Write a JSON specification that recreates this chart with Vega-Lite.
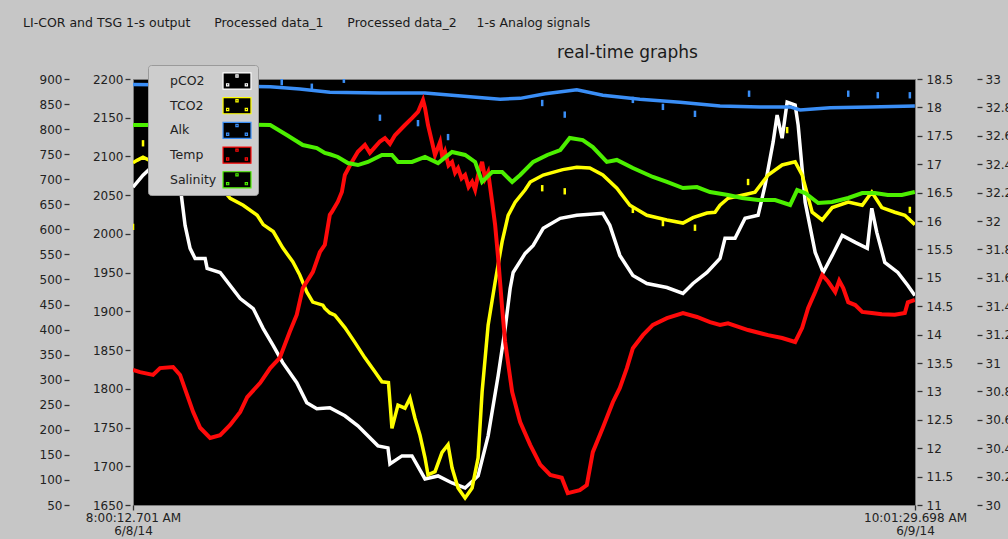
{
  "$schema": "https://vega.github.io/schema/vega-lite/v6.json",
  "width": 782,
  "height": 426,
  "autosize": {"type": "none"},
  "padding": {"left": 133, "top": 79, "right": 93, "bottom": 34},
  "background": "#c6c6c6",
  "title": {
    "text": "LI-COR and TSG 1-s output\u00a0\u00a0\u00a0\u00a0\u00a0\u00a0Processed data_1\u00a0\u00a0\u00a0\u00a0\u00a0\u00a0Processed data_2\u00a0\u00a0\u00a0\u00a0\u00a01-s Analog signals",
    "anchor": "start", "frame": "group", "dx": -110, "dy": -14, "offset": 0,
    "font": "DejaVu Sans", "fontSize": 12.5, "fontWeight": "normal", "color": "#1a1a1a"
  },
  "config": {
    "view": {"fill": "#000000", "stroke": "#7a7a7a", "strokeWidth": 1},
    "axis": {"labelFont": "DejaVu Sans", "labelFontSize": 12, "labelColor": "#222222", "tickColor": "#333333", "tickWidth": 1.3, "tickSize": 5, "domain": false, "grid": false, "labelOverlap": false}
  },
  "datasets": {
    "pco2": [
      {"s":"pCO2","t":0,"v":684},{"s":"pCO2","t":20,"v":708},{"s":"pCO2","t":54,"v":740},{"s":"pCO2","t":94,"v":688},{"s":"pCO2","t":104,"v":608},{"s":"pCO2","t":114,"v":562},{"s":"pCO2","t":124,"v":542},{"s":"pCO2","t":144,"v":542},{"s":"pCO2","t":148,"v":522},{"s":"pCO2","t":174,"v":514},{"s":"pCO2","t":214,"v":462},{"s":"pCO2","t":240,"v":442},{"s":"pCO2","t":260,"v":402},{"s":"pCO2","t":280,"v":368},{"s":"pCO2","t":299,"v":334},{"s":"pCO2","t":327,"v":294},{"s":"pCO2","t":347,"v":254},{"s":"pCO2","t":367,"v":242},{"s":"pCO2","t":393,"v":244},{"s":"pCO2","t":423,"v":228},{"s":"pCO2","t":449,"v":208},{"s":"pCO2","t":489,"v":168},{"s":"pCO2","t":509,"v":164},{"s":"pCO2","t":513,"v":132},{"s":"pCO2","t":537,"v":148},{"s":"pCO2","t":557,"v":148},{"s":"pCO2","t":583,"v":102},{"s":"pCO2","t":609,"v":108},{"s":"pCO2","t":637,"v":94},{"s":"pCO2","t":663,"v":84},{"s":"pCO2","t":689,"v":108},{"s":"pCO2","t":709,"v":188},{"s":"pCO2","t":729,"v":308},{"s":"pCO2","t":743,"v":402},{"s":"pCO2","t":753,"v":482},{"s":"pCO2","t":759,"v":514},{"s":"pCO2","t":783,"v":552},{"s":"pCO2","t":799,"v":568},{"s":"pCO2","t":819,"v":602},{"s":"pCO2","t":853,"v":622},{"s":"pCO2","t":886,"v":628},{"s":"pCO2","t":938,"v":632},{"s":"pCO2","t":952,"v":608},{"s":"pCO2","t":972,"v":548},{"s":"pCO2","t":998,"v":508},{"s":"pCO2","t":1026,"v":492},{"s":"pCO2","t":1066,"v":484},{"s":"pCO2","t":1098,"v":472},{"s":"pCO2","t":1118,"v":492},{"s":"pCO2","t":1146,"v":514},{"s":"pCO2","t":1172,"v":542},{"s":"pCO2","t":1182,"v":582},{"s":"pCO2","t":1202,"v":582},{"s":"pCO2","t":1222,"v":622},{"s":"pCO2","t":1248,"v":628},{"s":"pCO2","t":1262,"v":688},{"s":"pCO2","t":1278,"v":774},{"s":"pCO2","t":1286,"v":828},{"s":"pCO2","t":1296,"v":782},{"s":"pCO2","t":1306,"v":854},{"s":"pCO2","t":1322,"v":848},{"s":"pCO2","t":1328,"v":808},{"s":"pCO2","t":1342,"v":654},{"s":"pCO2","t":1362,"v":554},{"s":"pCO2","t":1378,"v":514},{"s":"pCO2","t":1396,"v":548},{"s":"pCO2","t":1416,"v":588},{"s":"pCO2","t":1442,"v":574},{"s":"pCO2","t":1466,"v":562},{"s":"pCO2","t":1475,"v":642},{"s":"pCO2","t":1485,"v":594},{"s":"pCO2","t":1501,"v":534},{"s":"pCO2","t":1527,"v":514},{"s":"pCO2","t":1547,"v":488},{"s":"pCO2","t":1561,"v":468}
    ],
    "carb": [
      {"s":"TCO2","t":0,"v":2092},{"s":"TCO2","t":8,"v":2095},{"s":"TCO2","t":20,"v":2099},{"s":"TCO2","t":134,"v":2063},{"s":"TCO2","t":174,"v":2061},{"s":"TCO2","t":194,"v":2046},{"s":"TCO2","t":220,"v":2037},{"s":"TCO2","t":248,"v":2024},{"s":"TCO2","t":260,"v":2012},{"s":"TCO2","t":280,"v":2003},{"s":"TCO2","t":299,"v":1982},{"s":"TCO2","t":319,"v":1964},{"s":"TCO2","t":333,"v":1947},{"s":"TCO2","t":347,"v":1925},{"s":"TCO2","t":359,"v":1912},{"s":"TCO2","t":379,"v":1908},{"s":"TCO2","t":383,"v":1904},{"s":"TCO2","t":393,"v":1898},{"s":"TCO2","t":403,"v":1895},{"s":"TCO2","t":423,"v":1879},{"s":"TCO2","t":443,"v":1860},{"s":"TCO2","t":463,"v":1840},{"s":"TCO2","t":483,"v":1822},{"s":"TCO2","t":497,"v":1809},{"s":"TCO2","t":510,"v":1808},{"s":"TCO2","t":514,"v":1775},{"s":"TCO2","t":517,"v":1749},{"s":"TCO2","t":529,"v":1779},{"s":"TCO2","t":543,"v":1775},{"s":"TCO2","t":553,"v":1788},{"s":"TCO2","t":563,"v":1762},{"s":"TCO2","t":573,"v":1740},{"s":"TCO2","t":583,"v":1711},{"s":"TCO2","t":589,"v":1689},{"s":"TCO2","t":603,"v":1693},{"s":"TCO2","t":617,"v":1718},{"s":"TCO2","t":629,"v":1728},{"s":"TCO2","t":637,"v":1698},{"s":"TCO2","t":649,"v":1672},{"s":"TCO2","t":663,"v":1659},{"s":"TCO2","t":677,"v":1672},{"s":"TCO2","t":689,"v":1711},{"s":"TCO2","t":697,"v":1796},{"s":"TCO2","t":709,"v":1882},{"s":"TCO2","t":723,"v":1938},{"s":"TCO2","t":737,"v":1990},{"s":"TCO2","t":749,"v":2024},{"s":"TCO2","t":763,"v":2041},{"s":"TCO2","t":783,"v":2057},{"s":"TCO2","t":793,"v":2067},{"s":"TCO2","t":819,"v":2076},{"s":"TCO2","t":858,"v":2083},{"s":"TCO2","t":886,"v":2086},{"s":"TCO2","t":912,"v":2085},{"s":"TCO2","t":938,"v":2076},{"s":"TCO2","t":966,"v":2059},{"s":"TCO2","t":992,"v":2037},{"s":"TCO2","t":1026,"v":2024},{"s":"TCO2","t":1066,"v":2018},{"s":"TCO2","t":1098,"v":2014},{"s":"TCO2","t":1118,"v":2021},{"s":"TCO2","t":1146,"v":2027},{"s":"TCO2","t":1162,"v":2028},{"s":"TCO2","t":1172,"v":2037},{"s":"TCO2","t":1188,"v":2046},{"s":"TCO2","t":1216,"v":2050},{"s":"TCO2","t":1242,"v":2054},{"s":"TCO2","t":1268,"v":2076},{"s":"TCO2","t":1296,"v":2089},{"s":"TCO2","t":1322,"v":2093},{"s":"TCO2","t":1336,"v":2076},{"s":"TCO2","t":1356,"v":2028},{"s":"TCO2","t":1376,"v":2018},{"s":"TCO2","t":1396,"v":2034},{"s":"TCO2","t":1428,"v":2041},{"s":"TCO2","t":1456,"v":2037},{"s":"TCO2","t":1475,"v":2054},{"s":"TCO2","t":1495,"v":2034},{"s":"TCO2","t":1521,"v":2028},{"s":"TCO2","t":1541,"v":2024},{"s":"TCO2","t":1561,"v":2012},
      {"s":"Alk","t":0,"v":2193},{"s":"Alk","t":134,"v":2192},{"s":"Alk","t":274,"v":2190},{"s":"Alk","t":333,"v":2187},{"s":"Alk","t":393,"v":2183},{"s":"Alk","t":493,"v":2182},{"s":"Alk","t":583,"v":2182},{"s":"Alk","t":673,"v":2177},{"s":"Alk","t":733,"v":2174},{"s":"Alk","t":773,"v":2175},{"s":"Alk","t":823,"v":2181},{"s":"Alk","t":886,"v":2186},{"s":"Alk","t":938,"v":2179},{"s":"Alk","t":1012,"v":2174},{"s":"Alk","t":1092,"v":2170},{"s":"Alk","t":1172,"v":2165},{"s":"Alk","t":1252,"v":2164},{"s":"Alk","t":1312,"v":2164},{"s":"Alk","t":1332,"v":2160},{"s":"Alk","t":1392,"v":2163},{"s":"Alk","t":1471,"v":2164},{"s":"Alk","t":1561,"v":2165}
    ],
    "alkspk": [
      {"t":297,"v":2196},{"t":357,"v":2190},{"t":421,"v":2199},{"t":493,"v":2150},{"t":569,"v":2143},{"t":629,"v":2125},{"t":817,"v":2169},{"t":862,"v":2154},{"t":998,"v":2173},{"t":1058,"v":2164},{"t":1122,"v":2155},{"t":1230,"v":2181},{"t":1428,"v":2181},{"t":1487,"v":2179},{"t":1551,"v":2179}
    ],
    "tcospk": [
      {"t":0,"v":2009},{"t":20,"v":2117},{"t":817,"v":2059},{"t":862,"v":2055},{"t":998,"v":2031},{"t":1058,"v":2014},{"t":1122,"v":2008},{"t":1228,"v":2067},{"t":1306,"v":2134},{"t":1551,"v":2031}
    ],
    "temp": [
      {"s":"Temp","t":0,"v":13.38},{"s":"Temp","t":14,"v":13.34},{"s":"Temp","t":40,"v":13.29},{"s":"Temp","t":54,"v":13.41},{"s":"Temp","t":80,"v":13.43},{"s":"Temp","t":94,"v":13.29},{"s":"Temp","t":108,"v":12.94},{"s":"Temp","t":120,"v":12.64},{"s":"Temp","t":134,"v":12.36},{"s":"Temp","t":154,"v":12.18},{"s":"Temp","t":174,"v":12.23},{"s":"Temp","t":194,"v":12.41},{"s":"Temp","t":214,"v":12.64},{"s":"Temp","t":228,"v":12.90},{"s":"Temp","t":254,"v":13.15},{"s":"Temp","t":274,"v":13.41},{"s":"Temp","t":293,"v":13.59},{"s":"Temp","t":313,"v":14.05},{"s":"Temp","t":327,"v":14.35},{"s":"Temp","t":339,"v":14.82},{"s":"Temp","t":359,"v":15.10},{"s":"Temp","t":373,"v":15.45},{"s":"Temp","t":383,"v":15.58},{"s":"Temp","t":393,"v":16.11},{"s":"Temp","t":397,"v":16.16},{"s":"Temp","t":409,"v":16.34},{"s":"Temp","t":417,"v":16.51},{"s":"Temp","t":423,"v":16.81},{"s":"Temp","t":437,"v":17.04},{"s":"Temp","t":449,"v":17.22},{"s":"Temp","t":463,"v":17.34},{"s":"Temp","t":473,"v":17.20},{"s":"Temp","t":483,"v":17.30},{"s":"Temp","t":493,"v":17.40},{"s":"Temp","t":503,"v":17.46},{"s":"Temp","t":513,"v":17.36},{"s":"Temp","t":523,"v":17.51},{"s":"Temp","t":543,"v":17.69},{"s":"Temp","t":557,"v":17.81},{"s":"Temp","t":569,"v":17.92},{"s":"Temp","t":579,"v":18.13},{"s":"Temp","t":583,"v":17.99},{"s":"Temp","t":589,"v":17.69},{"s":"Temp","t":597,"v":17.39},{"s":"Temp","t":603,"v":17.16},{"s":"Temp","t":613,"v":17.39},{"s":"Temp","t":618,"v":17.10},{"s":"Temp","t":623,"v":17.22},{"s":"Temp","t":630,"v":16.98},{"s":"Temp","t":637,"v":17.04},{"s":"Temp","t":643,"v":16.85},{"s":"Temp","t":649,"v":16.93},{"s":"Temp","t":656,"v":16.75},{"s":"Temp","t":663,"v":16.81},{"s":"Temp","t":670,"v":16.60},{"s":"Temp","t":677,"v":16.69},{"s":"Temp","t":683,"v":16.55},{"s":"Temp","t":689,"v":16.81},{"s":"Temp","t":697,"v":17.04},{"s":"Temp","t":703,"v":16.75},{"s":"Temp","t":709,"v":16.86},{"s":"Temp","t":717,"v":16.34},{"s":"Temp","t":723,"v":15.93},{"s":"Temp","t":729,"v":15.35},{"s":"Temp","t":737,"v":14.47},{"s":"Temp","t":743,"v":13.87},{"s":"Temp","t":757,"v":12.99},{"s":"Temp","t":769,"v":12.59},{"s":"Temp","t":773,"v":12.46},{"s":"Temp","t":793,"v":12.06},{"s":"Temp","t":813,"v":11.71},{"s":"Temp","t":833,"v":11.53},{"s":"Temp","t":856,"v":11.48},{"s":"Temp","t":868,"v":11.21},{"s":"Temp","t":892,"v":11.26},{"s":"Temp","t":906,"v":11.35},{"s":"Temp","t":918,"v":11.93},{"s":"Temp","t":938,"v":12.36},{"s":"Temp","t":958,"v":12.81},{"s":"Temp","t":972,"v":13.06},{"s":"Temp","t":986,"v":13.41},{"s":"Temp","t":998,"v":13.76},{"s":"Temp","t":1018,"v":13.99},{"s":"Temp","t":1038,"v":14.17},{"s":"Temp","t":1066,"v":14.29},{"s":"Temp","t":1098,"v":14.38},{"s":"Temp","t":1126,"v":14.31},{"s":"Temp","t":1152,"v":14.22},{"s":"Temp","t":1172,"v":14.17},{"s":"Temp","t":1188,"v":14.20},{"s":"Temp","t":1228,"v":14.08},{"s":"Temp","t":1268,"v":13.99},{"s":"Temp","t":1296,"v":13.94},{"s":"Temp","t":1322,"v":13.87},{"s":"Temp","t":1336,"v":14.12},{"s":"Temp","t":1348,"v":14.47},{"s":"Temp","t":1362,"v":14.75},{"s":"Temp","t":1376,"v":15.05},{"s":"Temp","t":1388,"v":14.93},{"s":"Temp","t":1402,"v":14.75},{"s":"Temp","t":1410,"v":14.95},{"s":"Temp","t":1418,"v":14.82},{"s":"Temp","t":1428,"v":14.57},{"s":"Temp","t":1442,"v":14.52},{"s":"Temp","t":1456,"v":14.40},{"s":"Temp","t":1475,"v":14.38},{"s":"Temp","t":1495,"v":14.36},{"s":"Temp","t":1521,"v":14.35},{"s":"Temp","t":1541,"v":14.38},{"s":"Temp","t":1547,"v":14.57},{"s":"Temp","t":1561,"v":14.61}
    ],
    "sal": [
      {"s":"Salinity","t":0,"v":32.676},{"s":"Salinity","t":20,"v":32.676},{"s":"Salinity","t":150,"v":32.68},{"s":"Salinity","t":274,"v":32.676},{"s":"Salinity","t":307,"v":32.606},{"s":"Salinity","t":339,"v":32.535},{"s":"Salinity","t":367,"v":32.514},{"s":"Salinity","t":383,"v":32.479},{"s":"Salinity","t":393,"v":32.47},{"s":"Salinity","t":409,"v":32.451},{"s":"Salinity","t":429,"v":32.408},{"s":"Salinity","t":449,"v":32.394},{"s":"Salinity","t":469,"v":32.416},{"s":"Salinity","t":497,"v":32.465},{"s":"Salinity","t":517,"v":32.465},{"s":"Salinity","t":529,"v":32.416},{"s":"Salinity","t":557,"v":32.416},{"s":"Salinity","t":583,"v":32.451},{"s":"Salinity","t":609,"v":32.408},{"s":"Salinity","t":637,"v":32.486},{"s":"Salinity","t":663,"v":32.465},{"s":"Salinity","t":683,"v":32.416},{"s":"Salinity","t":697,"v":32.275},{"s":"Salinity","t":717,"v":32.345},{"s":"Salinity","t":737,"v":32.345},{"s":"Salinity","t":757,"v":32.275},{"s":"Salinity","t":773,"v":32.324},{"s":"Salinity","t":799,"v":32.416},{"s":"Salinity","t":827,"v":32.465},{"s":"Salinity","t":853,"v":32.5},{"s":"Salinity","t":872,"v":32.585},{"s":"Salinity","t":898,"v":32.57},{"s":"Salinity","t":918,"v":32.521},{"s":"Salinity","t":946,"v":32.416},{"s":"Salinity","t":966,"v":32.43},{"s":"Salinity","t":998,"v":32.373},{"s":"Salinity","t":1038,"v":32.31},{"s":"Salinity","t":1066,"v":32.275},{"s":"Salinity","t":1098,"v":32.232},{"s":"Salinity","t":1126,"v":32.239},{"s":"Salinity","t":1152,"v":32.204},{"s":"Salinity","t":1188,"v":32.183},{"s":"Salinity","t":1216,"v":32.162},{"s":"Salinity","t":1248,"v":32.148},{"s":"Salinity","t":1282,"v":32.148},{"s":"Salinity","t":1312,"v":32.113},{"s":"Salinity","t":1326,"v":32.218},{"s":"Salinity","t":1342,"v":32.197},{"s":"Salinity","t":1368,"v":32.127},{"s":"Salinity","t":1396,"v":32.134},{"s":"Salinity","t":1428,"v":32.162},{"s":"Salinity","t":1456,"v":32.197},{"s":"Salinity","t":1481,"v":32.197},{"s":"Salinity","t":1507,"v":32.183},{"s":"Salinity","t":1535,"v":32.183},{"s":"Salinity","t":1561,"v":32.204}
    ]
  },
  "encoding": {
    "x": {
      "field": "t", "type": "quantitative",
      "scale": {"domain": [0, 1561.28], "nice": false, "zero": false},
      "axis": {
        "values": [0, 1561.28],
        "labelExpr": "datum.value < 1 ? ['8:00:12.701 AM', '6/8/14'] : ['10:01:29.698 AM', '6/9/14']",
        "labelAlign": "center", "labelFlush": false, "labelOverlap": false, "labelBaseline": "top",
        "labelPadding": 2, "labelLineHeight": 13, "tickSize": 5,
        "title": "real-time graphs", "titleX": 494, "titleY": -448, "titleBaseline": "alphabetic", "titleAlign": "center",
        "titleFont": "DejaVu Sans", "titleFontSize": 17, "titleFontWeight": "normal", "titleColor": "#1a1a1a"
      }
    }
  },
  "layer": [
    {
      "data": {"name": "alkspk"},
      "mark": {"type": "point", "shape": "M-0.4,-1H0.4V1H-0.4Z", "size": 40, "filled": true, "opacity": 1, "color": "#3a8ef6", "clip": true},
      "encoding": {"y": {"field": "v", "type": "quantitative", "scale": {"domain": [1650, 2200], "nice": false, "zero": false}, "axis": null}}
    },
    {
      "data": {"name": "tcospk"},
      "mark": {"type": "point", "shape": "M-0.4,-1H0.4V1H-0.4Z", "size": 40, "filled": true, "opacity": 1, "color": "#ffff00", "clip": true},
      "encoding": {"y": {"field": "v", "type": "quantitative", "scale": {"domain": [1650, 2200], "nice": false, "zero": false}, "axis": null}}
    },
    {
      "data": {"name": "pco2"},
      "mark": {"type": "line", "strokeWidth": 3.5, "clip": true},
      "encoding": {
        "y": {"field": "v", "type": "quantitative", "scale": {"domain": [50, 900], "nice": false, "zero": false},
          "axis": {"orient": "left", "offset": 64, "format": "d", "labelPadding": 2, "title": null, "labelOverlap": false,
            "values": [50,100,150,200,250,300,350,400,450,500,550,600,650,700,750,800,850,900]}},
        "color": {"field": "s", "type": "nominal",
          "scale": {"domain": ["pCO2","TCO2","Alk","Temp","Salinity"], "range": ["#ffffff","#ffff00","#3a8ef6","#ff0a0a","#4cf000"]},
          "legend": {
            "title": null, "orient": "none", "legendX": 15, "legendY": -14, "zindex": 2,
            "symbolType": "M-1.27,-0.73H1.27V0.73H-1.27Z M-0.1,-0.55H0.1V-0.35H-0.1Z M-0.95,0.25H-0.75V0.45H-0.95Z M0.75,0.25H0.95V0.45H0.75Z",
            "symbolSize": 484, "symbolStrokeWidth": 1.2, "symbolOffset": 73, "labelOffset": -79,
            "labelFont": "DejaVu Sans", "labelFontSize": 12.5, "labelColor": "#222222",
            "rowPadding": 1.7, "padding": 4, "fillColor": "#cdcdcd", "strokeColor": "#9a9a9a", "cornerRadius": 3,
            "encode": {"symbols": {"update": {"fill": {"value": "#000000"}, "fillOpacity": {"value": 1}, "opacity": {"value": 1}}}}
          }}
      }
    },
    {
      "data": {"name": "carb"},
      "mark": {"type": "line", "strokeWidth": 3.5, "clip": true},
      "encoding": {
        "y": {"field": "v", "type": "quantitative", "scale": {"domain": [1650, 2200], "nice": false, "zero": false},
          "axis": {"orient": "left", "offset": 3, "format": "d", "labelPadding": 2, "title": null, "labelOverlap": false,
            "values": [1650,1700,1750,1800,1850,1900,1950,2000,2050,2100,2150,2200]}},
        "color": {"field": "s", "type": "nominal",
          "scale": {"domain": ["pCO2","TCO2","Alk","Temp","Salinity"], "range": ["#ffffff","#ffff00","#3a8ef6","#ff0a0a","#4cf000"]}}
      }
    },
    {
      "data": {"name": "temp"},
      "mark": {"type": "line", "strokeWidth": 4, "clip": true},
      "encoding": {
        "y": {"field": "v", "type": "quantitative", "scale": {"domain": [11, 18.5], "nice": false, "zero": false},
          "axis": {"orient": "right", "offset": 2, "format": "~g", "labelPadding": 4, "title": null, "labelOverlap": false,
            "values": [11,11.5,12,12.5,13,13.5,14,14.5,15,15.5,16,16.5,17,17.5,18,18.5]}},
        "color": {"field": "s", "type": "nominal",
          "scale": {"domain": ["pCO2","TCO2","Alk","Temp","Salinity"], "range": ["#ffffff","#ffff00","#3a8ef6","#ff0a0a","#4cf000"]}}
      }
    },
    {
      "data": {"name": "sal"},
      "mark": {"type": "line", "strokeWidth": 4, "clip": true},
      "encoding": {
        "y": {"field": "v", "type": "quantitative", "scale": {"domain": [30, 33], "nice": false, "zero": false},
          "axis": {"orient": "right", "offset": 62, "format": "~g", "labelPadding": 3, "title": null, "labelOverlap": false,
            "values": [30,30.2,30.4,30.6,30.8,31,31.2,31.4,31.6,31.8,32,32.2,32.4,32.6,32.8,33]}},
        "color": {"field": "s", "type": "nominal",
          "scale": {"domain": ["pCO2","TCO2","Alk","Temp","Salinity"], "range": ["#ffffff","#ffff00","#3a8ef6","#ff0a0a","#4cf000"]}}
      }
    }
  ],
  "resolve": {"scale": {"y": "independent"}}
}
